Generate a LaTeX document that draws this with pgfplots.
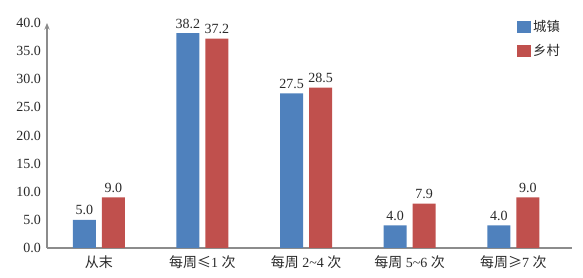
\documentclass[border=0pt]{standalone}
\usepackage{fontspec}
\setmainfont{Liberation Serif}
\newfontfamily\cjk{Noto Sans CJK SC}
\usepackage{pgfplots}
\pgfplotsset{compat=1.18}
\usetikzlibrary{arrows.meta}
\definecolor{cblue}{HTML}{4F81BD}
\definecolor{cred}{HTML}{C0504D}
\definecolor{txt}{HTML}{2A2A2A}
\begin{document}
\begin{tikzpicture}
\useasboundingbox (-35.25pt,-22.5pt) rectangle (402pt,186pt);
\begin{axis}[
  at={(0,0)}, anchor=south west,
  scale only axis,
  width=394pt, height=168.75pt,
  xmin=-0.5, xmax=4.57,
  ymin=0, ymax=40,
  axis lines=left,
  axis line style={draw=gray!90, line width=0.9pt},
  x axis line style={-},
  y axis line style={-{Stealth[length=5pt,width=4pt]}},
  ytick={0,5,...,40},
  xtick={0,1,2,3,4},
  xticklabels={{\cjk 从末},{\cjk 每周≤}1 {\cjk 次},{\cjk 每周} 2\textasciitilde4 {\cjk 次},{\cjk 每周} 5\textasciitilde6 {\cjk 次},{\cjk 每周≥}7 {\cjk 次}},
  major tick length=0pt,
  tick label style={font=\fontsize{10.5}{12}\selectfont, text=txt},
  /pgf/number format/assume math mode=true,
  yticklabel style={/pgf/number format/.cd, fixed, fixed zerofill, precision=1},
  yticklabel shift=1pt,
  xticklabel shift=2pt,
  ybar=4.5pt,
  bar width=17.25pt,
  nodes near coords,
  nodes near coords style={font=\fontsize{10.5}{12}\selectfont, text=txt, /pgf/number format/.cd, fixed, fixed zerofill, precision=1, assume math mode=true},
  legend style={at={(rel axis cs:0.887,1.035)}, anchor=north west, draw=none, fill=none,
    font=\fontsize{10}{12}\selectfont\cjk, text=txt, row sep=4pt,
    /tikz/every even column/.append style={column sep=2pt}},
  legend cell align=left,
  legend image code/.code={\fill[#1] (0pt,-4.5pt) rectangle (10pt,4.5pt);},
  clip=false,
]
\addplot[draw=none, fill=cblue] coordinates {(0,5.0) (1,38.2) (2,27.5) (3,4.0) (4,4.0)};
\addplot[draw=none, fill=cred] coordinates {(0,9.0) (1,37.2) (2,28.5) (3,7.9) (4,9.0)};
\legend{城镇,乡村}
\end{axis}
\end{tikzpicture}
\end{document}
